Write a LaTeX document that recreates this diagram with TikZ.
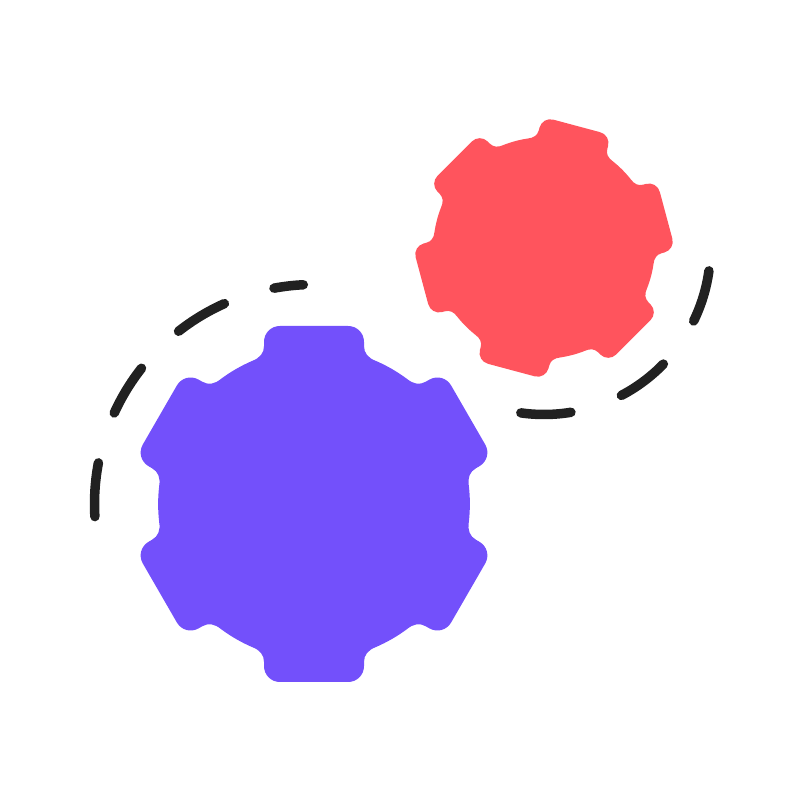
\documentclass[tikz,border=0pt]{standalone}
\definecolor{gearpurple}{HTML}{7350FB}
\definecolor{gearred}{HTML}{FF545D}
\definecolor{dashdark}{HTML}{212121}
\tikzset{
  orbitdash/.style={draw=dashdark, line width=1.9mm, line cap=round},
  gear/.pic={
    \path[pic actions] (62,143) \foreach \a in {0,60,...,300} {
      {[rotate=\a]
        .. controls (54,146) and (50,151) .. (50,158) -- (50,162)
        .. controls (50,171) and (43,178) .. (34,178) -- (-34,178)
        .. controls (-43,178) and (-50,171) .. (-50,162) -- (-50,158)
        .. controls (-50,151) and (-54,146) .. (-62,143)
        arc[start angle=113.4, end angle=126.6, radius=156]}
    } -- cycle;
  }
}
\begin{document}
\begin{tikzpicture}[x=0.02cm, y=0.02cm]
    \useasboundingbox (0,0) rectangle (800,800);
    \coordinate (bigcenter) at (314,296);
    \coordinate (smallcenter) at (544,552);
    \pic[fill=gearpurple] at (bigcenter) {gear};
    \pic[fill=gearred, rotate=-15, scale=0.71] at (smallcenter) {gear};
    % dashes round the big gear
    \foreach \from/\to in {183.3/169.2, 155.5/141.8, 128.1/114.1, 100.5/92.8} {
        \draw[orbitdash] (bigcenter) ++(\from:219.5) arc[start angle=\from, end angle=\to, radius=219.5];
    }
    % dashes round the small gear
    \foreach \from/\to in {-7.9/-26, -44.2/-62.3, -80.7/-98} {
        \draw[orbitdash] (smallcenter) ++(\from:166.5) arc[start angle=\from, end angle=\to, radius=166.5];
    }
\end{tikzpicture}
\end{document}
